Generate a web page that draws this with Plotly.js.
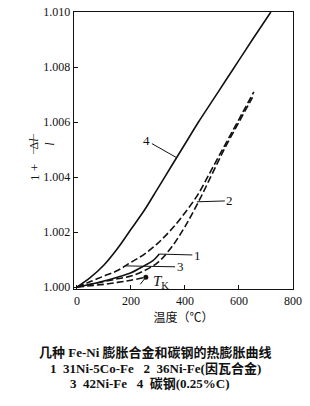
<!DOCTYPE html>
<html>
<head>
<meta charset="utf-8">
<script src="https://cdn.plot.ly/plotly-3.0.1.min.js"></script>
<style>html,body{margin:0;padding:0;background:#fff;}#chart{width:310px;height:406px;}</style>
</head>
<body>
<div id="chart"></div>
<script>
// Curve 4: carbon steel (0.25%C), solid
const c4X = [0, 50, 100, 150, 200, 250, 300, 350, 400, 450, 500, 550, 600, 650, 718];
const c4Y = [1.0000, 1.00035, 1.0008, 1.0014, 1.0021, 1.0028, 1.0036, 1.0044, 1.0052, 1.0060, 1.00675, 1.0075, 1.00825, 1.0090, 1.0100];
// Curve 3: 42Ni-Fe, dashed (upper)
const c3X = [0, 50, 100, 150, 200, 250, 300, 350, 400, 450, 500, 550, 600, 655];
const c3Y = [1.0000, 1.0002, 1.0004, 1.0006, 1.0009, 1.0012, 1.0016, 1.0021, 1.0027, 1.0034, 1.0043, 1.0052, 1.0061, 1.0071];
// Curve 2: 36Ni-Fe (Invar), dashed
const c2X = [0, 50, 100, 150, 200, 250, 300, 350, 400, 450, 500, 550, 600, 650];
const c2Y = [1.0000, 1.0001, 1.0002, 1.0003, 1.0004, 1.0006, 1.0009, 1.00145, 1.0022, 1.0031, 1.0041, 1.0051, 1.0060, 1.0069];
// Curve 1: 31Ni-5Co-Fe, solid (short)
const c1X = [0, 50, 100, 150, 200, 250, 280, 305];
const c1Y = [1.0000, 1.0001, 1.00022, 1.00036, 1.00052, 1.00078, 1.00095, 1.0012];
// Low dashed branch ending at Curie point T_K
const tkX = [0, 50, 100, 150, 200, 255];
const tkY = [1.0000, 1.00005, 1.0001, 1.00017, 1.00025, 1.00036];
// Curve label anchors (point on curve each leader touches)
const labelText = ["1", "2", "3", "4"];
const labelX = [305, 444, 178, 370];
const labelY = [1.0012, 1.0031, 1.00077, 1.0047];
// Axis ticks
const xTicks = [0, 200, 400, 600, 800];
const yTicks = [1.000, 1.002, 1.004, 1.006, 1.008, 1.010];

const solid = () => ({color: '#111', width: 1.6, shape: 'spline'});
const dashed = () => ({color: '#111', width: 1.6, dash: '7px,3px', shape: 'spline'});
const traces = [
  {x: c4X, y: c4Y, mode: 'lines', line: solid()},
  {x: c3X, y: c3Y, mode: 'lines', line: dashed()},
  {x: c2X, y: c2Y, mode: 'lines', line: dashed()},
  {x: c1X, y: c1Y, mode: 'lines', line: solid()},
  {x: tkX, y: tkY, mode: 'lines', line: dashed()},
  {x: [tkX[tkX.length-1]], y: [tkY[tkY.length-1]], mode: 'markers', marker: {color: '#111', size: 5}}
];

const serif = 'Liberation Serif, Noto Sans CJK SC, serif';
const offsets = [[38, 1], [33, -1], [55, 1], [-30, -17]];
const annotations = labelText.map((t, i) => ({
  x: labelX[i], y: labelY[i], xref: 'x', yref: 'y', text: t,
  showarrow: true, arrowhead: 0, arrowwidth: 1, arrowcolor: '#111', standoff: 0,
  ax: offsets[i][0], ay: offsets[i][1],
  font: {family: serif, size: 13, color: '#111'}
}));
const tkx = tkX[tkX.length-1], tky = tkY[tkY.length-1];
annotations.push({x: tkx, y: tky, xref: 'x', yref: 'y', text: ' ', showarrow: true,
  arrowhead: 0, arrowwidth: 1, arrowcolor: '#111', standoff: 0, ax: -7, ay: 9,
  font: {size: 1}});
annotations.push({x: tkx, y: tky, xref: 'x', yref: 'y', text: '<i>T</i><sub>K</sub>',
  showarrow: false, xanchor: 'left', yanchor: 'middle', xshift: 5, yshift: -5,
  font: {family: serif, size: 15, color: '#111'}});
// Y axis title: 1 + Δl / l (rotated)
annotations.push({xref: 'paper', yref: 'paper', x: -0.224, y: 0.42, text: '1 +',
  textangle: -90, showarrow: false, font: {family: serif, size: 13, color: '#111'}});
annotations.push({xref: 'paper', yref: 'paper', x: -0.224, y: 0.525,
  text: 'Δ<i>l</i><br><i>l</i>', textangle: -90, showarrow: false,
  font: {family: serif, size: 12, color: '#111'}});
annotations.push({xref: 'paper', yref: 'paper', x: -0.224, y: 0.525,
  text: '——', textangle: -90, showarrow: false,
  font: {family: serif, size: 10, color: '#111'}});
// Caption
const capFont = {family: serif, size: 13, color: '#111', weight: 'bold'};
annotations.push({xref: 'paper', yref: 'paper', x: 0.37, y: -0.262, xanchor: 'center', showarrow: false,
  text: '几种 Fe-Ni 膨胀合金和碳钢的热膨胀曲线', font: capFont});
annotations.push({xref: 'paper', yref: 'paper', x: 0.37, y: -0.322, xanchor: 'center', showarrow: false,
  text: '1  31Ni-5Co-Fe   2  36Ni-Fe(因瓦合金)', font: capFont});
annotations.push({xref: 'paper', yref: 'paper', x: 0.347, y: -0.377, xanchor: 'center', showarrow: false,
  text: '3  42Ni-Fe   4  碳钢(0.25%C)', font: capFont});

const layout = {
  width: 310, height: 406,
  margin: {l: 74, r: 17, t: 12, b: 117},
  paper_bgcolor: '#fff', plot_bgcolor: '#fff',
  showlegend: false,
  xaxis: {
    range: [-11, 800], tickvals: xTicks, ticktext: xTicks.map(String),
    ticks: 'inside', ticklen: 4, tickcolor: '#111',
    showline: true, mirror: true, linecolor: '#111', linewidth: 1.3,
    showgrid: false, zeroline: false,
    tickfont: {family: serif, size: 12, color: '#111'},
    title: {text: '温度（℃）', standoff: 7, font: {family: 'Noto Sans CJK SC, sans-serif', size: 12, color: '#111'}}
  },
  yaxis: {
    range: [0.99993, 1.010], tickvals: yTicks, ticktext: yTicks.map(v => v.toFixed(3)),
    ticks: 'inside', ticklen: 4, tickcolor: '#111',
    showline: true, mirror: true, linecolor: '#111', linewidth: 1.3,
    showgrid: false, zeroline: false,
    tickfont: {family: serif, size: 12, color: '#111'}
  },
  annotations: annotations
};
Plotly.newPlot('chart', traces, layout, {displayModeBar: false, staticPlot: true});
</script>
</body>
</html>
